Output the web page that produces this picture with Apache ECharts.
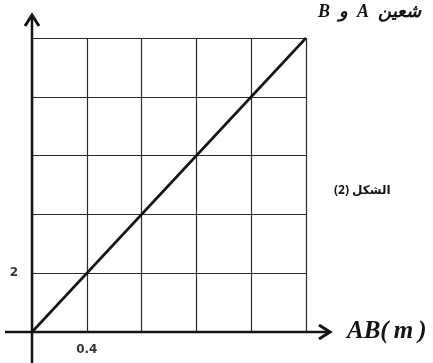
<!DOCTYPE html>
<html>
<head>
<meta charset="utf-8">
<script src="https://cdn.jsdelivr.net/npm/echarts@6/dist/echarts.min.js"></script>
<style>
  html, body { margin: 0; padding: 0; background: #fff; }
  #chart { width: 433px; height: 363px; }
</style>
</head>
<body>
<div id="chart"></div>
<script>
// line AB(m) -> value, straight through origin
const abValues = [0, 2.0]
const yValues = [0, 10]
const xTicks = ['0.4']
const yTicks = ['2']

const chart = echarts.init(document.getElementById('chart'))

const ink = '#141414'

const option = {
  animation: false,
  backgroundColor: '#fff',
  grid: { left: 32, right: 127, top: 38, bottom: 31 },
  xAxis: {
    type: 'value',
    min: 0,
    max: 2,
    interval: 0.4,
    name: 'AB(\u2009m\u2009)',
    nameLocation: 'end',
    nameGap: 41,
    nameTextStyle: {
      fontFamily: 'Liberation Serif',
      fontStyle: 'italic',
      fontWeight: 'bold',
      fontSize: 25,
      color: ink,
      verticalAlign: 'middle',
      padding: [0, 0, 12, 0]
    },
    axisLine: { show: false },
    axisTick: { show: false },
    splitLine: { show: true, lineStyle: { color: '#2a2a2a', width: 1.2 } },
    axisLabel: {
      margin: 12,
      fontFamily: 'DejaVu Sans',
      fontSize: 12,
      fontWeight: 'bold',
      color: '#333',
      formatter: v => (xTicks.includes(v.toFixed(1)) ? v.toFixed(1) : '')
    }
  },
  yAxis: {
    type: 'value',
    min: 0,
    max: 10,
    interval: 2,
    axisLine: { show: false },
    axisTick: { show: false },
    splitLine: { show: true, lineStyle: { color: '#2a2a2a', width: 1.2 } },
    axisLabel: {
      margin: 14,
      fontFamily: 'DejaVu Sans',
      fontSize: 12,
      fontWeight: 'bold',
      color: '#333',
      formatter: v => (yTicks.includes(String(v)) ? String(v) : '')
    }
  },
  graphic: [
    // y axis with arrow
    { type: 'line', shape: { x1: 32, y1: 363, x2: 32, y2: 16 }, style: { stroke: ink, lineWidth: 2.5 }, z: 10 },
    { type: 'polyline', shape: { points: [[25, 26], [32, 15], [39, 26]] }, style: { stroke: ink, lineWidth: 3, fill: null }, z: 10 },
    // x axis with arrow
    { type: 'line', shape: { x1: 5, y1: 332, x2: 329, y2: 332 }, style: { stroke: ink, lineWidth: 2.5 }, z: 10 },
    { type: 'polyline', shape: { points: [[319, 325], [330, 332], [319, 339]] }, style: { stroke: ink, lineWidth: 3, fill: null }, z: 10 },
    {
      type: 'text', left: 334, top: 185,
      style: { text: 'الشكل (2)', font: 'bold 12px "Noto Sans", "DejaVu Sans"', fill: ink }
    },
    {
      type: 'text', left: 318, top: 3,
      style: { text: 'B  و  A  شعين', font: 'italic bold 18px "Liberation Serif", "DejaVu Serif"', fill: ink }
    }
  ],
  series: [{
    type: 'line',
    data: abValues.map((x, i) => [x, yValues[i]]),
    showSymbol: false,
    lineStyle: { color: ink, width: 2.6 },
    z: 5
  }]
}

chart.setOption(option)
</script>
</body>
</html>
